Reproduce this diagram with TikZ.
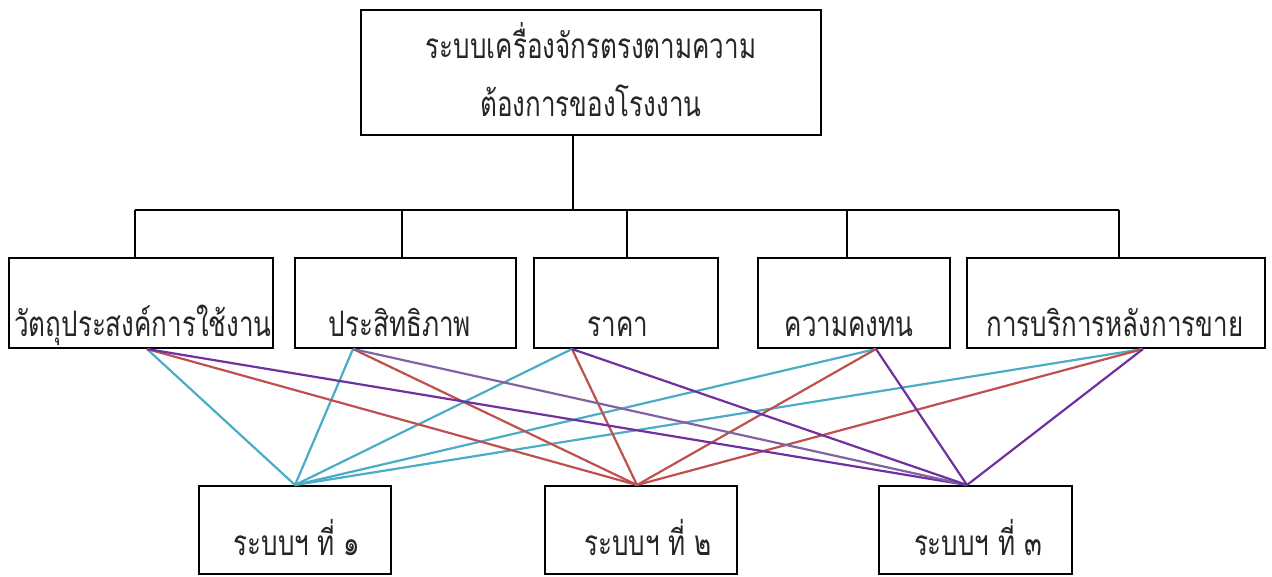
\documentclass[tikz,border=0pt]{standalone}
\usepackage{graphicx}
\usepackage{fontspec}
\newfontfamily\thaifont[Script=Thai]{Loma}
\definecolor{cy}{HTML}{4BACC6}
\definecolor{rd}{HTML}{C0504D}
\definecolor{pu}{HTML}{7030A0}
\definecolor{lpu}{HTML}{8064A2}
\newcommand{\tall}[1]{\scalebox{1}[1.35]{#1}}
\begin{document}
\begin{tikzpicture}[x=1pt,y=-1pt,
  box/.style={draw=black, line width=2pt, inner sep=0pt},
  txt/.style={font=\thaifont\fontsize{26}{30}\selectfont, anchor=base, inner sep=0pt, text=black!85},
  tree/.style={line width=1.6pt, black},
  wire/.style={line width=2.2pt}]
\useasboundingbox (0,0) rectangle (1272,576);
% top
\node[box, minimum width=460pt, minimum height=125pt] (top) at (591,72.5) {};
\node[txt] (tl1) at (591,58) {\tall{ระบบเครื่องจักรตรงตามความ}};
\node[txt] (tl2) at (591,116) {\tall{ต้องการของโรงงาน}};
% middle boxes
\node[box, minimum width=264pt, minimum height=90pt] (m1) at (141,303) {};
\node[box, minimum width=221pt, minimum height=90pt] (m2) at (405.5,303) {};
\node[box, minimum width=184pt, minimum height=90pt] (m3) at (626,303) {};
\node[box, minimum width=192pt, minimum height=90pt] (m4) at (854,303) {};
\node[box, minimum width=298pt, minimum height=90pt] (m5) at (1116,303) {};
\node[txt] (t1) at (143,336) {\tall{วัตถุประสงค์การใช้งาน}};
\node[txt] (t2) at (400,336) {\tall{ประสิทธิภาพ}};
\node[txt] (t3) at (618,336) {\tall{ราคา}};
\node[txt] (t4) at (849,336) {\tall{ความคงทน}};
\node[txt] (t5) at (1115,336) {\tall{การบริการหลังการขาย}};
% bottom boxes
\node[box, minimum width=192pt, minimum height=88pt] (s1) at (295,530) {};
\node[box, minimum width=192pt, minimum height=88pt] (s2) at (641,530) {};
\node[box, minimum width=193pt, minimum height=88pt] (s3) at (975.5,530) {};
\node[txt] (u1) at (297,555) {\tall{ระบบฯ ที่ ๑}};
\node[txt] (u2) at (648,555) {\tall{ระบบฯ ที่ ๒}};
\node[txt] (u3) at (978,555) {\tall{ระบบฯ ที่ ๓}};
% tree
\path (top.south) ++(-18,0) coordinate (tj);
\coordinate (busL) at (135,210);
\coordinate (busR) at (1119,210);
\coordinate (d2) at (402,210);
\coordinate (d3) at (627,210);
\coordinate (d4) at (847,210);
\draw[tree] (tj) -- (tj |- busL);
\draw[tree] (busL) -- (busR);
\draw[tree] (busL) -- (busL |- m1.north);
\draw[tree] (d2) -- (d2 |- m2.north);
\draw[tree] (d3) -- (d3 |- m3.north);
\draw[tree] (d4) -- (d4 |- m4.north);
\draw[tree] (busR) -- (busR |- m5.north);
% attach points
\path (m1.south) ++(6,0) coordinate (a1);
\path (m2.south) ++(-52.5,0) coordinate (a2);
\path (m3.south) ++(-54,0) coordinate (a3);
\path (m4.south) ++(22,0) coordinate (a4);
\path (m5.south) ++(27,0) coordinate (a5);
\path (s2.north) ++(-4,0) coordinate (b2);
\path (s3.north) ++(-8.5,0) coordinate (b3);
% wires
\foreach \a in {a1,a2,a3,a4,a5} \draw[wire, cy] (\a) -- (s1.north);
\foreach \a in {a1,a2,a3,a4,a5} \draw[wire, rd] (\a) -- (b2);
\draw[wire, pu] (a1) -- (b3);
\draw[wire, lpu] (a2) -- (b3);
\foreach \a in {a3,a4,a5} \draw[wire, pu] (\a) -- (b3);
\end{tikzpicture}
\end{document}
